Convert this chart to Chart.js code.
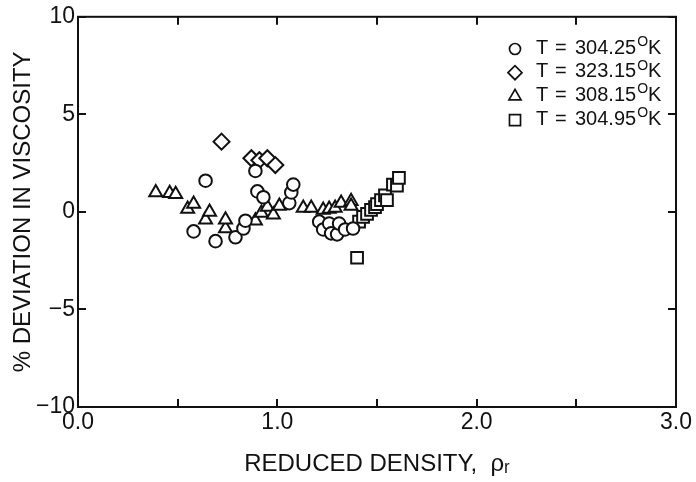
<!DOCTYPE html>
<html>
<head>
<meta charset="utf-8">
<script src="https://cdn.jsdelivr.net/npm/chart.js@4/dist/chart.umd.min.js"></script>
<style>
    html, body { margin: 0; padding: 0; background: #ffffff; }
    #wrap { width: 696px; height: 482px; }
</style>
</head>
<body>
<div id="wrap"><canvas id="chart" width="696" height="482"></canvas></div>
<script>
/* globals Chart */

// legend temperatures (K)
const temps = ["304.25", "323.15", "308.15", "304.95"];

// T = 304.25 K (circles)
const circleX = [0.58, 0.64, 0.69, 0.79, 0.83, 0.84, 0.89, 0.90, 0.93, 1.06, 1.07, 1.08, 1.21, 1.23, 1.26, 1.27, 1.30, 1.31, 1.34, 1.38];
const circleY = [-1.0, 1.6, -1.5, -1.3, -0.85, -0.45, 2.1, 1.05, 0.75, 0.45, 1.0, 1.4, -0.5, -0.9, -0.6, -1.1, -1.15, -0.6, -0.9, -0.85];

// T = 323.15 K (diamonds)
const diamondX = [0.72, 0.87, 0.91, 0.95, 0.99];
const diamondY = [3.6, 2.75, 2.65, 2.75, 2.4];

// T = 308.15 K (triangles)
const triangleX = [0.39, 0.46, 0.49, 0.55, 0.58, 0.64, 0.66, 0.74, 0.74, 0.89, 0.92, 0.95, 0.98, 1.01, 1.13, 1.17, 1.23, 1.26, 1.29, 1.32, 1.37, 1.37];
const triangleY = [1.0, 0.95, 0.9, 0.15, 0.4, -0.4, 0.0, -0.85, -0.4, -0.45, -0.05, 0.25, -0.15, 0.3, 0.2, 0.2, 0.1, 0.15, 0.2, 0.45, 0.55, 0.3];

// T = 304.95 K (squares)
const squareX = [1.40, 1.41, 1.43, 1.45, 1.47, 1.49, 1.50, 1.52, 1.54, 1.55, 1.58, 1.60, 1.61];
const squareY = [-2.35, -0.5, -0.25, -0.1, 0.1, 0.25, 0.4, 0.6, 0.85, 0.6, 1.4, 1.35, 1.75];

const xRange = [0, 3];
const yRange = [-10, 10];

const FONT = "'Liberation Sans', Arial, 'DejaVu Sans', sans-serif";
const INK = "#111111";

const toPoints = (xs, ys) => xs.map((x, i) => ({ x, y: ys[i] }));

const makeSet = (temp, xs, ys, style, radius) => ({
    label: "T = " + temp + "\u1D3CK",
    data: toPoints(xs, ys),
    pointStyle: style,
    pointRadius: radius,
    pointHoverRadius: radius,
    pointBackgroundColor: "#ffffff",
    pointBorderColor: INK,
    pointBorderWidth: 2,
    showLine: false
});

const datasets = [
    makeSet(temps[0], circleX, circleY, "circle", 6.3),
    makeSet(temps[1], diamondX, diamondY, "rectRot", 8),
    makeSet(temps[2], triangleX, triangleY, "triangle", 7.5),
    makeSet(temps[3], squareX, squareY, "rect", 8.3)
];

const legendRadius = [5.5, 7, 7, 7.8];

// frame with inward ticks on all four sides
const framePlugin = {
    id: "frame",
    afterDatasetsDraw(chart) {
        const { ctx, chartArea: a, scales } = chart;
        const tick = 8;
        ctx.save();
        ctx.strokeStyle = INK;
        ctx.lineWidth = 2;
        ctx.strokeRect(a.left, a.top, a.right - a.left, a.bottom - a.top);
        ctx.beginPath();
        scales.x.ticks.forEach((t) => {
            const px = Math.round(scales.x.getPixelForValue(t.value));
            ctx.moveTo(px, a.bottom);
            ctx.lineTo(px, a.bottom - tick);
            ctx.moveTo(px, a.top);
            ctx.lineTo(px, a.top + tick);
        });
        scales.y.ticks.forEach((t) => {
            const py = Math.round(scales.y.getPixelForValue(t.value));
            ctx.moveTo(a.left, py);
            ctx.lineTo(a.left + tick, py);
            ctx.moveTo(a.right, py);
            ctx.lineTo(a.right - tick, py);
        });
        ctx.stroke();
        ctx.restore();
    }
};

// legend drawn inside the plot, top right
const legendPlugin = {
    id: "innerLegend",
    afterDraw(chart) {
        const { ctx } = chart;
        const symX = 515;
        const numX = 575;
        const top = 48;
        const step = 23.7;
        ctx.save();
        chart.data.datasets.forEach((ds, i) => {
            const y = top + i * step;
            ctx.fillStyle = "#ffffff";
            ctx.strokeStyle = INK;
            ctx.lineWidth = 1.7;
            Chart.helpers.drawPoint(ctx, {
                pointStyle: ds.pointStyle,
                radius: legendRadius[i],
                rotation: 0,
                borderWidth: 1.7
            }, symX, y + 1);

            ctx.fillStyle = INK;
            ctx.textBaseline = "middle";
            ctx.textAlign = "left";
            ctx.font = "20px " + FONT;
            ctx.fillText("T", 536, y);
            ctx.fillText("=", 555, y);
            ctx.fillText(temps[i], numX, y);
            const w = ctx.measureText(temps[i]).width;
            ctx.font = "14px " + FONT;
            ctx.fillText("O", numX + w + 1, y - 6);
            const ow = ctx.measureText("O").width;
            ctx.font = "20px " + FONT;
            ctx.fillText("K", numX + w + ow + 1, y);
        });
        ctx.restore();
    }
};

const fmtY = (v) => (v < 0 ? "\u2212" + Math.abs(v) : String(v));

new Chart(document.getElementById("chart"), {
    type: "scatter",
    data: { datasets },
    options: {
        responsive: false,
        animation: false,
        events: [],
        layout: { padding: { left: 0, right: 20, top: 13, bottom: 0 } },
        plugins: {
            legend: { display: false },
            tooltip: { enabled: false }
        },
        scales: {
            x: {
                type: "linear",
                min: xRange[0],
                max: xRange[1],
                grid: { display: false, drawTicks: false },
                border: { display: false },
                ticks: {
                    stepSize: 0.5,
                    autoSkip: false,
                    maxRotation: 0,
                    padding: 2,
                    color: INK,
                    font: { family: FONT, size: 23 },
                    callback: (v) => (Number.isInteger(v) ? v.toFixed(1) : "")
                },
                title: {
                    display: true,
                    text: "REDUCED DENSITY,  \u03C1\u1D63",
                    color: INK,
                    font: { family: FONT, size: 24 },
                    padding: { top: 0, bottom: 3 }
                },
                afterFit: (s) => { s.height = 75; }
            },
            y: {
                type: "linear",
                min: yRange[0],
                max: yRange[1],
                grid: { display: false, drawTicks: false },
                border: { display: false },
                ticks: {
                    stepSize: 5,
                    padding: 3,
                    color: INK,
                    font: { family: FONT, size: 23 },
                    callback: fmtY
                },
                title: {
                    display: true,
                    text: "% DEVIATION IN VISCOSITY",
                    color: INK,
                    font: { family: FONT, size: 24 },
                    padding: { top: 9, bottom: 0 }
                },
                afterFit: (s) => { s.width = 78; }
            }
        }
    },
    plugins: [framePlugin, legendPlugin]
});
</script>
</body>
</html>
